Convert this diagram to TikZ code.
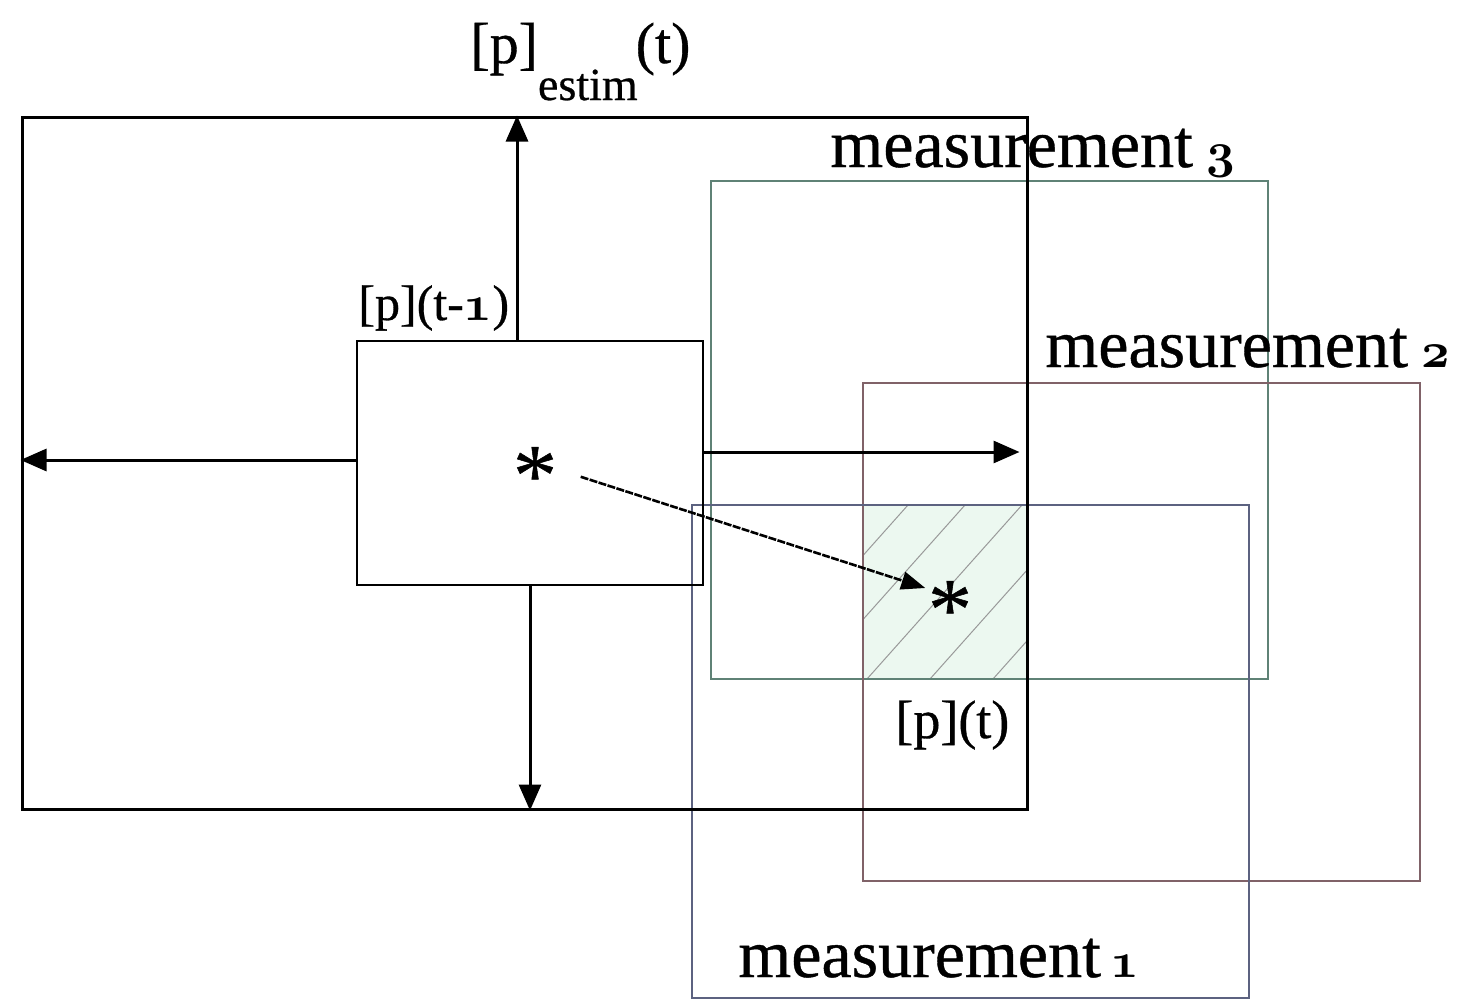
\documentclass[tikz,border=0pt]{standalone}
\usepackage{fontspec}
\setmainfont{Liberation Serif}[FakeBold=0.6]
\newfontfamily\heavyserif{Liberation Serif}[FakeBold=0.6]
\usetikzlibrary{arrows.meta,calc}
\definecolor{mthree}{RGB}{95,130,118}
\definecolor{mtwo}{RGB}{128,98,104}
\definecolor{mone}{RGB}{92,98,128}
\definecolor{hatchfill}{RGB}{236,248,240}
\newcommand\osn[1]{{\fontsize{38}{44}\usefont{OML}{cmm}{b}{it}#1}}
\newcommand\osnsmall[1]{{\usefont{OML}{cmm}{b}{it}#1}}
\begin{document}
\begin{tikzpicture}[x=0.5pt,y=-0.5pt,
  box/.style={draw, rectangle, inner sep=0pt, line width=1.5pt},
  mbox/.style={draw, rectangle, inner sep=0pt, line width=1pt, minimum width=278.5pt, minimum height=249pt},
  arr/.style={line width=1.5pt, -{Triangle[length=13pt,width=11pt]}},
  dasharr/.style={line width=1.3pt, dash pattern=on 4pt off 0.7pt, -{Triangle[length=12pt,width=9pt]}},
  lab/.style={anchor=base west, inner sep=0pt, font=\heavyserif\fontsize{34}{40}\selectfont},
  smalllab/.style={anchor=base west, inner sep=0pt, font=\heavyserif\fontsize{25}{30}\selectfont},
  starlab/.style={inner sep=0pt, font=\heavyserif\fontsize{44}{50}\selectfont},
  hatch/.style={draw=gray!80, line width=0.5pt}
]
\useasboundingbox (0,0) rectangle (1462,1001);
\fill[white] (0,0) rectangle (1462,1001);

% hatched intersection
\begin{scope}
  \clip (863,505) rectangle (1027,679);
  \fill[hatchfill] (863,505) rectangle (1027,679);
  \foreach \x in {908,965,1022,1085,1148} \draw[hatch] (\x,505) -- ++(-155,174);
\end{scope}

% measurement boxes
\node[mbox, draw=mthree] (m3) at (989.5,430) {};
\node[mbox, draw=mtwo] (m2) at (1141.5,632) {};
\node[mbox, draw=mone, minimum height=246.5pt] (m1) at (970.5,751.5) {};

% outer and previous boxes
\node[box, minimum width=502.5pt, minimum height=346pt] (outer) at (524.5,463) {};
\node[box, line width=1.2pt, minimum width=173pt, minimum height=122pt] (prev) at (530,463) {};

% arrows
\coordinate (upx) at ($(prev.north)+(-13,0)$);
\draw[arr] (upx) -- (upx |- outer.north);
\coordinate (lx) at ($(prev.west)+(0,-3)$);
\draw[arr] (lx) -- (lx -| outer.west);
\coordinate (rx) at ($(prev.east)+(0,-11)$);
\coordinate (rxe) at ($(rx -| outer.east)+(-9,0)$);
\draw[arr] (rx) -- (rxe);
\draw[arr] (prev.south) -- (prev.south |- outer.south);

% stars
\coordinate (s1) at (535,462);
\coordinate (s2) at (950,596);
\node[starlab] (star1) at ($(s1)+(0,14)$) {*};
\node[starlab] (star2) at ($(s2)+(0,14)$) {*};
\draw[dasharr, shorten <=24pt, shorten >=13pt] (s1) -- (s2);

% labels
\node[lab] (l3) at (830,167) {measurement\kern7pt\osn{3}};
\node[lab] (l2) at (1045,367) {measurement\kern7pt\osn{2}};
\node[lab] (l1) at (738,977) {measurement\kern5pt\osn{1}};
\node[smalllab] (lprev) at (358,320) {[p](t-\osnsmall{1})};
\node[smalllab, font=\heavyserif\fontsize{27}{32}\selectfont] (lnow) at (895,738) {[p](t)};
\node[anchor=base west, inner sep=0pt, font=\heavyserif\fontsize{29}{34}\selectfont] (lest) at (470,63)
  {[p]\raisebox{-18.5pt}{\fontsize{23}{28}\selectfont estim}\kern-1pt(t)};
\end{tikzpicture}
\end{document}
